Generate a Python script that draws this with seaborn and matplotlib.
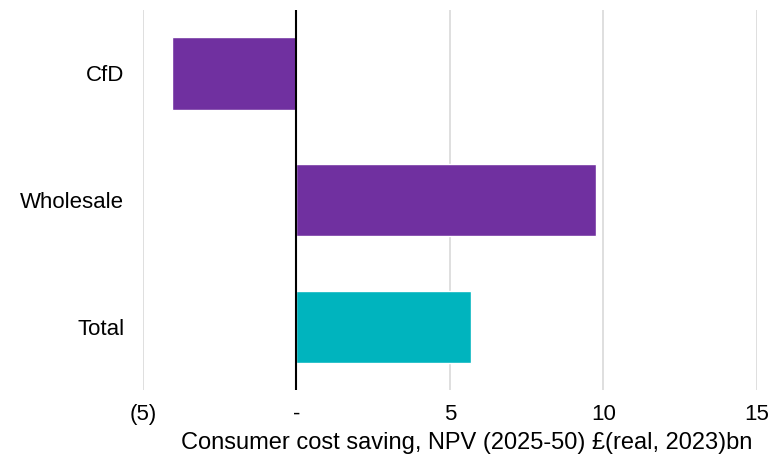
import matplotlib
matplotlib.use("Agg")
import matplotlib.pyplot as plt
import seaborn as sns
import pandas as pd

categories = ["CfD", "Wholesale", "Total"]
savings = [-4.07, 9.77, 5.68]
bar_colors = ["#7030A0", "#7030A0", "#00B4BE"]
x_ticks = [-5, 0, 5, 10, 15]
x_tick_labels = ["(5)", "-", "5", "10", "15"]

sns.set_theme(style="white")
plt.rcParams["font.family"] = ["Liberation Sans", "DejaVu Sans"]

df = pd.DataFrame({"category": categories, "saving": savings})

fig = plt.figure(figsize=(7.73, 4.62), dpi=100)
ax = fig.add_axes([0.185, 0.156, 0.794, 0.822])

sns.barplot(data=df, y="category", x="saving", hue="category",
            palette=dict(zip(categories, bar_colors)), legend=False,
            width=0.57, orient="h", ax=ax, saturation=1)

ax.set_xlim(-5, 15)
ax.set_ylim(2.5, -0.5)
ax.set_xticks(x_ticks)
ax.set_xticklabels(x_tick_labels)
for xv in x_ticks:
    if xv != 0:
        ax.axvline(xv, color="#D9D9D9", lw=1.2, zorder=0)
ax.axvline(0, color="black", lw=1.5, zorder=3)

for s in ax.spines.values():
    s.set_visible(False)
ax.tick_params(axis="both", length=0, labelsize=16, colors="black")
ax.tick_params(axis="x", pad=10)
ax.tick_params(axis="y", pad=13.5)
ax.set_ylabel("")
ax.set_xlabel("Consumer cost saving, NPV (2025-50) £(real, 2023)bn",
              fontsize=17, color="black")
ax.xaxis.set_label_coords(0.528, -0.11, transform=ax.transAxes)

fig.savefig("out.png", dpi=100)
